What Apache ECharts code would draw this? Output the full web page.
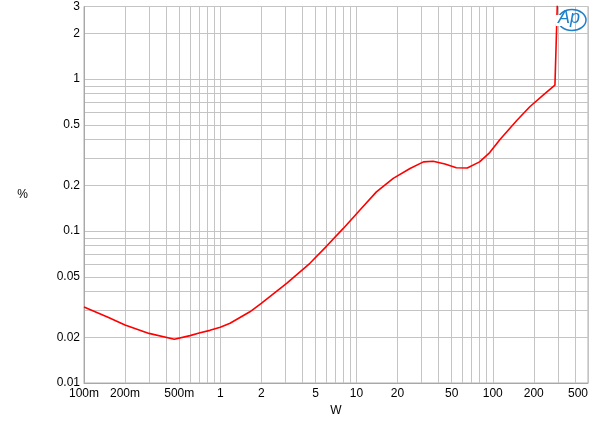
<!DOCTYPE html>
<html>
<head>
<meta charset="utf-8">
<script src="https://cdn.jsdelivr.net/npm/echarts@6/dist/echarts.min.js"></script>
<style>
html,body{margin:0;padding:0;background:#fff;}
#c{width:600px;height:425px;}
</style>
</head>
<body>
<div id="c"></div>
<script>
// Power (W) vs THD+N (%)
const powerW = [0.1, 0.15, 0.2, 0.3, 0.46, 0.6, 0.7, 0.84, 1, 1.18, 1.65, 2, 3.07, 4.55, 6.04, 8, 10.6, 14, 18.6, 24.7, 31, 36.5, 44.6, 54, 65, 80, 95, 113, 150, 187, 240, 286, 298];
const thdPct = [0.0316, 0.0271, 0.0241, 0.0212, 0.0194, 0.0205, 0.0213, 0.0222, 0.0233, 0.0247, 0.0294, 0.0334, 0.0453, 0.0613, 0.0796, 0.104, 0.1375, 0.181, 0.222, 0.258, 0.285, 0.288, 0.276, 0.261, 0.260, 0.285, 0.328, 0.40, 0.533, 0.657, 0.798, 0.913, 3.2];

const xGrid = [0.1,0.2,0.3,0.4,0.5,0.6,0.7,0.8,0.9,1,2,3,4,5,6,7,8,9,10,20,30,40,50,60,70,80,90,100,200,300,400,500];
const xLabels = [0.1,0.2,0.5,1,2,5,10,20,50,100,200,500];
const yGrid = [0.01,0.02,0.03,0.04,0.05,0.06,0.07,0.08,0.09,0.1,0.2,0.3,0.4,0.5,0.6,0.7,0.8,0.9,1,2,3];
const yLabels = [0.01,0.02,0.05,0.1,0.2,0.5,1,2,3];

const data = powerW.map((x, i) => [x, thdPct[i]]);
const font = 'Liberation Sans, Arial, sans-serif';

const chart = echarts.init(document.getElementById('c'), null, {renderer: 'canvas'});
chart.setOption({
  animation: false,
  backgroundColor: '#ffffff',
  grid: {left: 84, right: 12, top: 6.5, bottom: 42, show: true, borderColor: '#b0b0b0', borderWidth: 1},
  xAxis: {
    type: 'log', min: 0.1, max: 500,
    name: 'W', nameLocation: 'middle', nameGap: 22,
    nameTextStyle: {color: '#000', fontSize: 12, fontFamily: font},
    axisLine: {show: true, lineStyle: {color: '#a8a8a8'}},
    axisTick: {show: false, customValues: xGrid},
    splitLine: {show: true, lineStyle: {color: '#c4c4c4', width: 1}},
    axisLabel: {
      customValues: xLabels, color: '#000', fontSize: 12, fontFamily: font, margin: 5,
      alignMaxLabel: 'right',
      formatter: v => v < 1 ? Math.round(v * 1000) + 'm' : String(Math.round(v))
    }
  },
  yAxis: {
    type: 'log', min: 0.01, max: 3,
    name: '%', nameLocation: 'middle', nameGap: 56, nameRotate: 0,
    nameTextStyle: {color: '#000', fontSize: 12, fontFamily: font},
    axisLine: {show: true, lineStyle: {color: '#a8a8a8'}},
    axisTick: {show: false, customValues: yGrid},
    splitLine: {show: true, lineStyle: {color: '#c4c4c4', width: 1}},
    axisLabel: {
      customValues: yLabels, color: '#000', fontSize: 12, fontFamily: font, margin: 4,
      formatter: v => String(+v.toPrecision(3))
    }
  },
  graphic: [
    {type: 'ellipse', shape: {cx: 572, cy: 20, rx: 14, ry: 10.5}, style: {fill: 'none', stroke: '#1f7fc8', lineWidth: 1.5}, z: 100},
    {type: 'rect', shape: {x: 556, y: 15, width: 6, height: 11}, style: {fill: '#fff'}, z: 101},
    {type: 'text', x: 558, y: 9, style: {text: 'Ap', font: 'italic 18px ' + font, fill: '#1f7fc8'}, z: 102}
  ],
  series: [{
    type: 'line', data: data, showSymbol: false, smooth: false, clip: true,
    lineStyle: {color: '#ff0000', width: 1.6}
  }]
});
</script>
</body>
</html>
